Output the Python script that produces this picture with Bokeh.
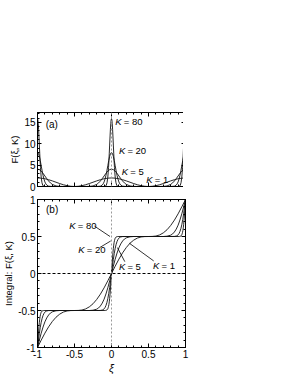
from bokeh.plotting import figure
from bokeh.layouts import column
from bokeh.models import Range1d, LinearAxis, FixedTicker, Span, Label
from bokeh.embed import file_html
from bokeh.resources import INLINE

# ---------------- data ----------------
# panel (a): F(xi, K) ; panel (b): integral of F(xi, K)
xi_k1 = [-1.0, -0.95, -0.9, -0.85, -0.8, -0.75, -0.7, -0.65, -0.6, -0.55, -0.5,
         -0.45, -0.4, -0.35, -0.3, -0.25, -0.2, -0.15, -0.1, -0.05, 0.0,
         0.05, 0.1, 0.15, 0.2, 0.25, 0.3, 0.35, 0.4, 0.45, 0.5,
         0.55, 0.6, 0.65, 0.7, 0.75, 0.8, 0.85, 0.9, 0.95, 1.0]
F_k1 = [2.00, 1.95, 1.81, 1.59, 1.31, 1.00, 0.69, 0.41, 0.19, 0.05, 0.00,
        0.05, 0.19, 0.41, 0.69, 1.00, 1.31, 1.59, 1.81, 1.95, 2.00,
        1.95, 1.81, 1.59, 1.31, 1.00, 0.69, 0.41, 0.19, 0.05, 0.00,
        0.05, 0.19, 0.41, 0.69, 1.00, 1.31, 1.59, 1.81, 1.95, 2.00]
G_k1 = [-1.000, -0.901, -0.806, -0.721, -0.649, -0.591, -0.549, -0.521, -0.506, -0.501, -0.500,
        -0.499, -0.494, -0.479, -0.451, -0.409, -0.351, -0.279, -0.194, -0.099, 0.000,
        0.099, 0.194, 0.279, 0.351, 0.409, 0.451, 0.479, 0.494, 0.499, 0.500,
        0.501, 0.506, 0.521, 0.549, 0.591, 0.649, 0.721, 0.806, 0.901, 1.000]

xi_k5 = [-1.0, -0.975, -0.95, -0.925, -0.9, -0.875, -0.85, -0.825, -0.8, -0.75, -0.7, -0.5,
         -0.3, -0.25, -0.2, -0.175, -0.15, -0.125, -0.1, -0.075, -0.05, -0.025, 0.0,
         0.025, 0.05, 0.075, 0.1, 0.125, 0.15, 0.175, 0.2, 0.25, 0.3, 0.5,
         0.7, 0.75, 0.8, 0.825, 0.85, 0.875, 0.9, 0.925, 0.95, 0.975, 1.0]
F_k5 = [4.06, 3.94, 3.59, 3.07, 2.46, 1.84, 1.28, 0.83, 0.49, 0.13, 0.02, 0.00,
        0.02, 0.13, 0.49, 0.83, 1.28, 1.84, 2.46, 3.07, 3.59, 3.94, 4.06,
        3.94, 3.59, 3.07, 2.46, 1.84, 1.28, 0.83, 0.49, 0.13, 0.02, 0.00,
        0.02, 0.13, 0.49, 0.83, 1.28, 1.84, 2.46, 3.07, 3.59, 3.94, 4.06]
G_k5 = [-1.000, -0.900, -0.806, -0.723, -0.653, -0.600, -0.561, -0.534, -0.518, -0.504, -0.500, -0.500,
        -0.500, -0.496, -0.482, -0.466, -0.439, -0.400, -0.347, -0.277, -0.194, -0.100, 0.000,
        0.100, 0.194, 0.277, 0.347, 0.400, 0.439, 0.466, 0.482, 0.496, 0.500, 0.500,
        0.500, 0.504, 0.518, 0.534, 0.561, 0.600, 0.653, 0.723, 0.806, 0.900, 1.000]

xi_k20 = [-1.0, -0.9875, -0.975, -0.9625, -0.95, -0.9375, -0.925, -0.9125, -0.9, -0.8875, -0.875, -0.85, -0.8, -0.5,
          -0.2, -0.15, -0.125, -0.1125, -0.1, -0.0875, -0.075, -0.0625, -0.05, -0.0375, -0.025, -0.0125, 0.0,
          0.0125, 0.025, 0.0375, 0.05, 0.0625, 0.075, 0.0875, 0.1, 0.1125, 0.125, 0.15, 0.2, 0.5,
          0.8, 0.85, 0.875, 0.8875, 0.9, 0.9125, 0.925, 0.9375, 0.95, 0.9625, 0.975, 0.9875, 1.0]
F_k20 = [7.98, 7.73, 7.05, 6.04, 4.86, 3.67, 2.60, 1.73, 1.07, 0.62, 0.34, 0.08, 0.00, 0.00,
         0.00, 0.08, 0.34, 0.62, 1.07, 1.73, 2.60, 3.67, 4.86, 6.04, 7.05, 7.73, 7.98,
         7.73, 7.05, 6.04, 4.86, 3.67, 2.60, 1.73, 1.07, 0.62, 0.34, 0.08, 0.00, 0.00,
         0.00, 0.08, 0.34, 0.62, 1.07, 1.73, 2.60, 3.67, 4.86, 6.04, 7.05, 7.73, 7.98]
G_k20 = [-1.000, -0.902, -0.809, -0.728, -0.659, -0.606, -0.567, -0.540, -0.522, -0.512, -0.506, -0.501, -0.500, -0.500,
         -0.500, -0.499, -0.494, -0.488, -0.478, -0.460, -0.433, -0.394, -0.341, -0.272, -0.191, -0.098, 0.000,
         0.098, 0.191, 0.272, 0.341, 0.394, 0.433, 0.460, 0.478, 0.488, 0.494, 0.499, 0.500, 0.500,
         0.500, 0.501, 0.506, 0.512, 0.522, 0.540, 0.567, 0.606, 0.659, 0.728, 0.809, 0.902, 1.000]

xi_k80 = [-1.0, -0.995, -0.99, -0.985, -0.98, -0.975, -0.97, -0.965, -0.96, -0.955, -0.95, -0.94, -0.93, -0.92, -0.9, -0.5,
          -0.1, -0.08, -0.07, -0.06, -0.05, -0.045, -0.04, -0.035, -0.03, -0.025, -0.02, -0.015, -0.01, -0.005, 0.0,
          0.005, 0.01, 0.015, 0.02, 0.025, 0.03, 0.035, 0.04, 0.045, 0.05, 0.06, 0.07, 0.08, 0.1, 0.5,
          0.9, 0.92, 0.93, 0.94, 0.95, 0.955, 0.96, 0.965, 0.97, 0.975, 0.98, 0.985, 0.99, 0.995, 1.0]
F_k80 = [15.88, 15.57, 14.67, 13.29, 11.58, 9.69, 7.79, 6.02, 4.47, 3.19, 2.19, 0.91, 0.32, 0.10, 0.00, 0.00,
         0.00, 0.10, 0.32, 0.91, 2.19, 3.19, 4.47, 6.02, 7.79, 9.69, 11.58, 13.29, 14.67, 15.57, 15.88,
         15.57, 14.67, 13.29, 11.58, 9.69, 7.79, 6.02, 4.47, 3.19, 2.19, 0.91, 0.32, 0.10, 0.00, 0.00,
         0.00, 0.10, 0.32, 0.91, 2.19, 3.19, 4.47, 6.02, 7.79, 9.69, 11.58, 13.29, 14.67, 15.57, 15.88]
G_k80 = [-1.000, -0.921, -0.846, -0.776, -0.714, -0.660, -0.617, -0.582, -0.556, -0.537, -0.523, -0.509, -0.503, -0.501, -0.500, -0.500,
         -0.500, -0.499, -0.497, -0.491, -0.477, -0.463, -0.444, -0.418, -0.383, -0.340, -0.286, -0.224, -0.154, -0.079, 0.000,
         0.079, 0.154, 0.224, 0.286, 0.340, 0.383, 0.418, 0.444, 0.463, 0.477, 0.491, 0.497, 0.499, 0.500, 0.500,
         0.500, 0.501, 0.503, 0.509, 0.523, 0.537, 0.556, 0.582, 0.617, 0.660, 0.714, 0.776, 0.846, 0.921, 1.000]

series = [(xi_k1, F_k1, G_k1), (xi_k5, F_k5, G_k5), (xi_k20, F_k20, G_k20), (xi_k80, F_k80, G_k80)]

x_ticks = [-1, -0.5, 0, 0.5, 1]
x_tick_labels = ["-1", "-0.5", "0", "0.5", "1"]
x_minor = [-0.9, -0.8, -0.7, -0.6, -0.4, -0.3, -0.2, -0.1, 0.1, 0.2, 0.3, 0.4, 0.6, 0.7, 0.8, 0.9]
ya_ticks = [0, 5, 10, 15]
ya_minor = [1, 2, 3, 4, 6, 7, 8, 9, 11, 12, 13, 14, 16, 17]
yb_ticks = [-1, -0.5, 0, 0.5, 1]
yb_tick_labels = ["-1", "-0.5", "0", "0.5", "1"]
yb_minor = x_minor

# annotation positions (data units)
a_labels = [(0.05, 15.3, "80"), (0.10, 8.3, "20"), (0.14, 3.5, " 5"), (0.47, 1.6, " 1")]
b_labels = [(-0.57, 0.65, "80"), (-0.45, 0.32, "20"), (0.10, 0.09, " 5"), (0.56, 0.11, " 1")]
b_leaders = [((-0.23, 0.64), (-0.02, 0.50)),
             ((-0.16, 0.35), (-0.01, 0.44)),
             ((0.18, 0.16), (0.08, 0.35)),
             ((0.57, 0.17), (0.24, 0.41))]

FONT = "Liberation Sans"
LEFT = 28


def style_axis(ax, show_labels=True):
    ax.axis_line_color = "black"
    ax.axis_line_width = 1
    ax.major_tick_in = 4
    ax.major_tick_out = 0
    ax.minor_tick_in = 2
    ax.minor_tick_out = 0
    ax.major_tick_line_color = "black"
    ax.minor_tick_line_color = "black"
    ax.major_label_text_font = FONT
    ax.major_label_text_font_size = "10px"
    ax.major_label_text_color = "black"
    ax.major_label_standoff = 2
    ax.axis_label_text_font = FONT
    ax.axis_label_text_font_size = "9.5px"
    ax.axis_label_text_font_style = "normal"
    ax.axis_label_text_color = "black"
    ax.axis_label_standoff = 1
    if not show_labels:
        ax.major_label_overrides = {t: "" for t in ax.ticker.ticks}
        ax.major_label_standoff = 0


def add_k_label(p, x, y, num):
    p.add_layout(Label(x=x, y=y, text="K", text_font=FONT, text_font_style="italic",
                       text_font_size="9.5px", text_baseline="middle", text_color="black"))
    p.add_layout(Label(x=x, y=y, x_offset=8.5, text="= " + num, text_font=FONT,
                       text_font_size="9.5px", text_baseline="middle", text_color="black"))


def make_fig(yr, yt, ymin, frame_h, top, bottom, xlabels):
    p = figure(frame_width=148, frame_height=frame_h, x_range=Range1d(-1, 1), y_range=yr,
               output_backend="svg", toolbar_location=None,
               min_border_left=LEFT, min_border_right=4, min_border_top=top, min_border_bottom=bottom)
    p.grid.visible = False
    p.outline_line_color = "black"
    p.background_fill_color = "white"
    p.border_fill_color = "white"
    bottom_ax = p.below[0]
    left_ax = p.left[0]
    bottom_ax.ticker = FixedTicker(ticks=x_ticks, minor_ticks=x_minor)
    bottom_ax.major_label_overrides = dict(zip(x_ticks, x_tick_labels))
    left_ax.ticker = FixedTicker(ticks=yt, minor_ticks=ymin)
    style_axis(bottom_ax, xlabels)
    style_axis(left_ax, True)
    top_ax = LinearAxis(ticker=FixedTicker(ticks=x_ticks, minor_ticks=x_minor))
    right_ax = LinearAxis(ticker=FixedTicker(ticks=yt, minor_ticks=ymin))
    style_axis(top_ax, False)
    style_axis(right_ax, False)
    p.add_layout(top_ax, "above")
    p.add_layout(right_ax, "right")
    return p, bottom_ax, left_ax


# ---------------- panel (a) ----------------
pa, pa_x, pa_y = make_fig(Range1d(0, 17.3), ya_ticks, ya_minor, 74, 112, 6, False)
pa_y.axis_label = "F(ξ, K)"
pa.add_layout(Span(location=0, dimension="height", line_color="#999999", line_dash="2 2", line_width=1))
for xs, fs, gs in series:
    pa.line(xs, fs, line_color="#111111", line_width=0.9)
pa.add_layout(Label(x=-0.89, y=14.4, text="(a)", text_font=FONT, text_font_size="10px",
                    text_baseline="middle", text_color="black"))
for x, y, n in a_labels:
    add_k_label(pa, x, y, n)

# ---------------- panel (b) ----------------
pb, pb_x, pb_y = make_fig(Range1d(-1, 1), yb_ticks, yb_minor, 148, 7, 0, True)
pb_y.major_label_overrides = dict(zip(yb_ticks, yb_tick_labels))
pb_y.axis_label = "Integral: F(ξ, K)"
pb_x.axis_label = "ξ"
pb_x.axis_label_text_font_style = "italic"
pb_x.axis_label_text_font_size = "11px"
pb.add_layout(Span(location=0, dimension="height", line_color="#999999", line_dash="2 2", line_width=1))
pb.add_layout(Span(location=0, dimension="width", line_color="black", line_dash="3 2", line_width=1))
for xs, fs, gs in series:
    pb.line(xs, gs, line_color="#111111", line_width=0.9)
pb.add_layout(Label(x=-0.885, y=0.86, text="(b)", text_font=FONT, text_font_size="10px",
                    text_baseline="middle", text_color="black"))
for x, y, n in b_labels:
    add_k_label(pb, x, y, n)
pb.segment(x0=[s[0][0] for s in b_leaders], y0=[s[0][1] for s in b_leaders],
           x1=[s[1][0] for s in b_leaders], y1=[s[1][1] for s in b_leaders],
           line_color="black", line_width=0.8)

layout = column(pa, pb, spacing=0)
open("out.html", "w").write(file_html(layout, INLINE))
